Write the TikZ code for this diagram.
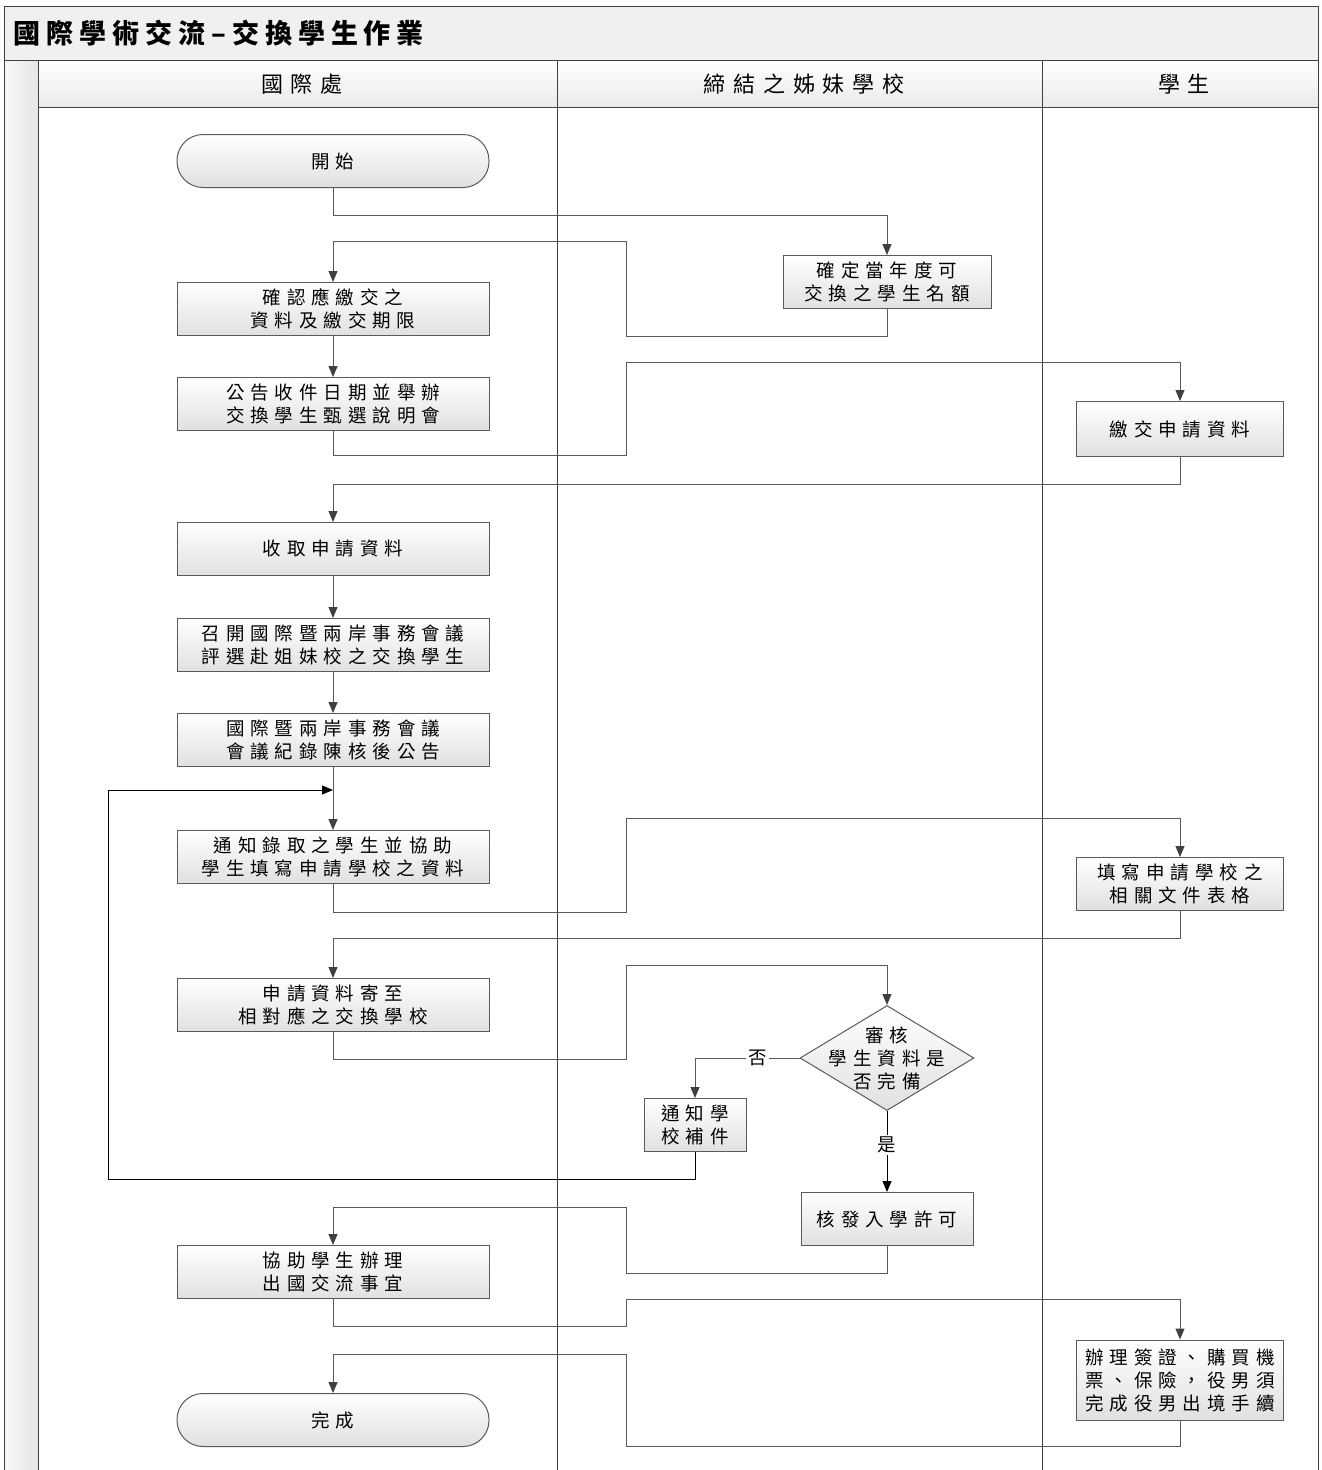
\documentclass[tikz,border=0pt]{standalone}
\usepackage{fontspec}
\setmainfont{Noto Sans CJK TC}
\newfontfamily\cjk[LetterSpace=32]{Noto Sans CJK TC}
\newfontfamily\cjkhead[LetterSpace=36]{Noto Sans CJK TC}
\newfontfamily\cjktitle[LetterSpace=22]{Noto Sans CJK TC}
\usepackage{tikz}
\usetikzlibrary{arrows.meta, positioning, shapes.geometric}
\tikzset{every node/.style={font=\cjk\fontsize{18.5}{23}\selectfont}}
\usepackage{xcolor}
\definecolor{lanegray}{HTML}{404040}
\definecolor{linegray}{HTML}{5A5A5A}

\begin{document}
\begin{tikzpicture}[x=1pt, y=-1pt, line width=1pt, node distance=41pt,
    stepbox/.style={draw=linegray, top color=white, bottom color=black!12, minimum width=312, minimum height=53, align=center, inner sep=2pt},
    endbox/.style={stepbox, rounded corners=26},
    askbox/.style={diamond, draw=linegray, top color=white, bottom color=black!12, minimum width=174, minimum height=105, inner sep=-10pt, shape aspect=1.66, align=center},
    flow/.style={draw=linegray, -{Triangle[length=11pt, width=9pt, color=black!75]}},
    backflow/.style={draw=black, -{Triangle[length=11pt, width=9pt, color=black]}},
    tag/.style={fill=white, inner sep=2pt}]
        \useasboundingbox (0,0) rectangle (1322,1470);
        % frame and lanes
        \fill[black!6] (4,6) rectangle (1318,60);
        \shade[top color=white, bottom color=black!8] (38,60) rectangle (1318,107);
        \shade[left color=black!3, right color=black!10] (4,60) rectangle (38,1470);
        \draw[lanegray] (4,1470) |- (1318,6) -- (1318,1470);
        \draw[lanegray] (4,60) -- (1318,60) (38,107) -- (1318,107);
        \foreach \lx in {38,557,1042} \draw[lanegray] (\lx,60) -- (\lx,1470);
        \node[anchor=west, font=\cjktitle\bfseries\fontsize{27}{30}\selectfont] (title) at (10,33) {國際學術交流–交換學生作業};
        \node[font=\cjkhead\fontsize{22}{25}\selectfont] (lane1) at (302,84) {國際處};
        \node[font=\cjkhead\fontsize{22}{25}\selectfont] (lane2) at (804,84) {締結之姊妹學校};
        \node[font=\cjkhead\fontsize{22}{25}\selectfont] (lane3) at (1184,84) {學生};
        % steps
        \node[endbox] (start) at (333,161) {開始};
        \node[stepbox] (confirm) at (333,309) {確認應繳交之\\資料及繳交期限};
        \node[stepbox, below=of confirm] (announce) {公告收件日期並舉辦\\交換學生甄選說明會};
        \node[stepbox] (receive) at (333,549) {收取申請資料};
        \node[stepbox, below=42pt of receive] (meeting) {召開國際暨兩岸事務會議\\評選赴姐妹校之交換學生};
        \node[stepbox, below=of meeting] (minutes) {國際暨兩岸事務會議\\會議紀錄陳核後公告};
        \node[stepbox] (notify) at (333,857) {通知錄取之學生並協助\\學生填寫申請學校之資料};
        \node[stepbox] (send) at (333,1005) {申請資料寄至\\相對應之交換學校};
        \node[stepbox] (assist) at (333,1272) {協助學生辦理\\出國交流事宜};
        \node[endbox] (done) at (333,1420) {完成};
        \node[stepbox, minimum width=208] (quota) at (887,282) {確定當年度可\\交換之學生名額};
        \node[askbox] (review) at (887,1058) {審核\\學生資料是\\否完備};
        \node[stepbox, minimum width=102] (fix) at (695,1125) {通知學\\校補件};
        \node[stepbox, minimum width=172] (admit) at (887,1219) {核發入學許可};
        \node[stepbox, minimum width=207, minimum height=55] (submit) at (1180,429) {繳交申請資料};
        \node[stepbox, minimum width=207] (forms) at (1180,884) {填寫申請學校之\\相關文件表格};
        \node[stepbox, minimum width=207, minimum height=80] (visa) at (1180,1380) {辦理簽證、購買機\\票、保險，役男須\\完成役男出境手續};
        \coordinate (merge) at (333,790);
        % connectors
        \draw[flow] (start.south) -- ++(0,27) -| (quota.north);
        \draw[flow] (quota.south) -- ++(0,27) -| (626,241) -| (confirm.north);
        \draw[flow] (confirm) -- (announce);
        \draw[flow] (announce.south) -- ++(0,24) -| (626,362) -| (submit.north);
        \draw[flow] (submit.south) -- ++(0,27) -| (receive.north);
        \draw[flow] (receive) -- (meeting);
        \draw[flow] (meeting) -- (minutes);
        \draw[flow] (minutes) -- (notify);
        \draw[flow] (notify.south) -- ++(0,28) -| (626,818) -| (forms.north);
        \draw[flow] (forms.south) -- ++(0,27) -| (send.north);
        \draw[flow] (send.south) -- ++(0,27) -| (626,965) -| (review.north);
        \draw[flow] (review.west) -| node[tag, pos=0.2] {否} (fix.north);
        \draw[backflow] (review.south) -- node[tag, pos=0.42] {是} (admit.north);
        \draw[backflow] (fix.south) -- ++(0,27) -| (108,790) -- (merge);
        \draw[flow] (admit.south) -- ++(0,27) -| (626,1207) -| (assist.north);
        \draw[flow] (assist.south) -- ++(0,27) -| (626,1299) -| (visa.north);
        \draw[flow] (visa.south) -- ++(0,26) -| (626,1354) -| (done.north);
      \end{tikzpicture}
\end{document}
